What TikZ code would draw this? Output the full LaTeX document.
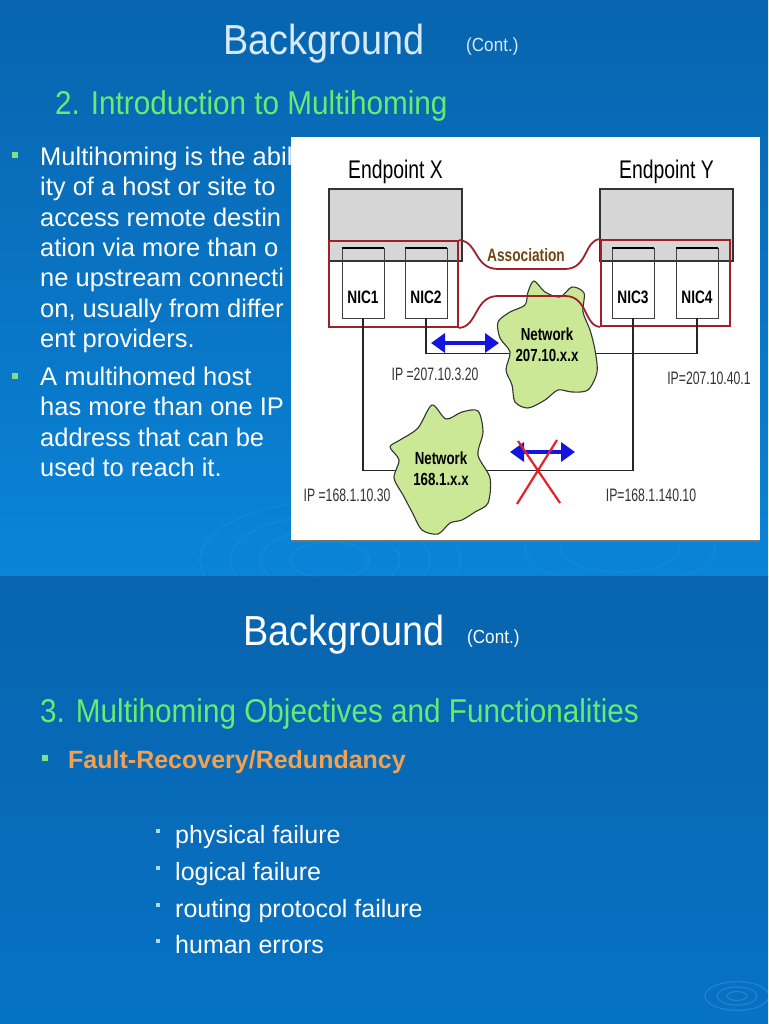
\documentclass[tikz,border=0pt]{standalone}
\usepackage{fontspec}
\setmainfont{Liberation Sans}
\newfontfamily\titlefont[FakeStretch=0.9]{Liberation Sans}
\newfontfamily\figfont[FakeStretch=0.76]{Liberation Sans}
\newfontfamily\ipfont[FakeStretch=0.68]{Liberation Sans}
\usetikzlibrary{arrows.meta,positioning}
\definecolor{slidetop}{RGB}{8,100,174}
\definecolor{slidelow}{RGB}{10,132,216}
\definecolor{slidetwolow}{RGB}{6,114,196}
\definecolor{headgreen}{RGB}{102,236,112}
\definecolor{titlewhite}{RGB}{214,234,250}
\definecolor{faultorange}{RGB}{240,162,82}
\definecolor{bulletgreen}{RGB}{130,224,130}
\definecolor{bulletcyan}{RGB}{170,220,235}
\definecolor{endgray}{RGB}{214,214,214}
\definecolor{assocred}{RGB}{158,32,40}
\definecolor{assoctext}{RGB}{110,70,20}
\definecolor{netgreen}{RGB}{202,232,150}
\definecolor{arrowblue}{RGB}{20,20,225}
\definecolor{crossred}{RGB}{228,32,40}

\begin{document}
\begin{tikzpicture}[x=1pt, y=-1pt,
    title/.style={font=\titlefont\fontsize{42}{44}\selectfont, text=titlewhite, anchor=base west, inner sep=0pt},
    cont/.style={font=\titlefont\fontsize{19}{21}\selectfont, text=titlewhite, anchor=base west, inner sep=0pt},
    heading/.style={font=\titlefont\fontsize{33}{36}\selectfont, text=headgreen, anchor=base west, inner sep=0pt},
    body/.style={font=\fontsize{25.5}{30.4}\selectfont, text=white, align=left, anchor=north west, inner sep=0pt},
    sub/.style={font=\fontsize{25}{27}\selectfont, text=white, anchor=base west, inner sep=0pt},
    sqbullet/.style={fill=bulletgreen, minimum size=6pt, inner sep=0pt},
    smallbullet/.style={fill=bulletcyan, minimum size=3.5pt, inner sep=0pt},
    endbox/.style={draw=black!80, line width=1.3pt, fill=endgray, minimum width=133pt, minimum height=72pt, inner sep=0pt},
    nic/.style={draw=black!75, minimum width=42pt, minimum height=70pt, inner sep=0pt, text height=40pt, text depth=0pt, font=\figfont\bfseries\fontsize{18}{20}\selectfont},
    assoc/.style={draw=assocred, line width=1.8pt, minimum width=129pt, minimum height=86pt, inner sep=0pt},
    endlabel/.style={font=\figfont\fontsize{25.5}{27}\selectfont, inner sep=0pt},
    netlabel/.style={font=\figfont\bfseries\fontsize{17.5}{21}\selectfont, align=center, inner sep=0pt},
    iplabel/.style={font=\ipfont\fontsize{18}{19}\selectfont, text=black!80, inner sep=0pt},
    wire/.style={draw=black!85, line width=1.2pt},
    twoway/.style={draw=arrowblue, line width=4pt, {Triangle[length=14pt,width=19pt]}-{Triangle[length=14pt,width=19pt]}},
    cloud/.style={draw=black!80, fill=netgreen, line width=1.1pt}
  ]
  \useasboundingbox (0,0) rectangle (768,1024);
  \shade[top color=slidetop, bottom color=slidelow] (0,0) rectangle (768,576);
  \shade[top color=slidetop, bottom color=slidetwolow] (0,576) rectangle (768,1024);

  \begin{scope}
    \clip (0,0) rectangle (768,576);
    \foreach \r in {40,70,100,130}
      \draw[white, opacity=0.035, line width=2pt] (330,560) ellipse ({\r pt} and {0.45*\r pt});
    \foreach \r in {60,95}
      \draw[white, opacity=0.03, line width=2pt] (620,548) ellipse ({\r pt} and {0.4*\r pt});
  \end{scope}
  \foreach \r in {10,20,32}
    \draw[white, opacity=0.12, line width=1.2pt] (737,996) ellipse ({\r pt} and {0.45*\r pt});

  \node[title] (bg1) at (223,55) {Background};
  \node[cont] (cont1) at (466,52) {(Cont.)};
  \node[heading] (intro) at (55,115) {2. Introduction to Multihoming};

  \node[sqbullet] (b1) at (15,155) {};
  \node[body] (txt1) at (40,146.7) {Multihoming is the abil\\ity of a host or site to\\access remote destin\\ation via more than o\\ne upstream connecti\\on, usually from differ\\ent providers.};
  \node[sqbullet] (b2) at (15,376) {};
  \node[body] (txt2) at (40,366.7) {A multihomed host\\has more than one IP\\address that can be\\used to reach it.};

  \fill[white] (291,137) rectangle (760,541);
  \draw[black!55, line width=1.5pt] (291,541) -- (760,541);

  \node[endbox] (epx) at (395.5,225) {};
  \node[endbox] (epy) at (666.5,225) {};
  \node[endlabel, above=4pt of epx] (epxname) {Endpoint X};
  \node[endlabel, above=4pt of epy] (epyname) {Endpoint Y};

  \node[nic] (nic1) at (363,283) {NIC1};
  \node[nic] (nic2) at (426,283) {NIC2};
  \node[nic] (nic3) at (633,283) {NIC3};
  \node[nic] (nic4) at (697,283) {NIC4};
  \foreach \n in {nic1,nic2,nic3,nic4}
    \draw[line width=1.8pt] (\n.north west) -- (\n.north east);

  \node[assoc] (ax) at (393.5,284) {};
  \node[assoc] (ay) at (665.5,283) {};
  \node[font=\figfont\bfseries\fontsize{18}{19}\selectfont, text=assoctext, inner sep=0pt] (assoc) at (526,255) {Association};

  \draw[wire] (nic1.south) -- ++(0,152) -| (nic3.south);
  \draw[wire] (nic2.south) -- ++(0,35) -| (nic4.south);

  \draw[cloud] plot[smooth cycle] coordinates {(534,281) (545,292) (560,297) (572,287) (584,293) (583,312) (590,330) (595,350) (597,372) (588,390) (572,392) (558,390) (545,400) (528,408) (515,402) (512,385) (506,370) (510,352) (500,338) (498,322) (510,312) (525,305) (528,292)};
  \draw[cloud] plot[smooth cycle] coordinates {(400,440) (418,428) (432,405) (446,419) (462,412) (478,411) (483,432) (478,455) (490,478) (488,503) (475,512) (462,520) (450,523) (438,534) (422,530) (412,512) (403,495) (394,478) (399,460) (390,447)};
  \node[netlabel] (net207) at (547,345) {Network\\207.10.x.x};
  \node[netlabel] (net168) at (441,469) {Network\\168.1.x.x};

  \draw[assocred, line width=1.8pt] (ax.north east) .. controls (478,241) and (474,269) .. (498,269) -- (565,269) .. controls (588,269) and (584,240) .. (ay.north west);
  \draw[assocred, line width=1.8pt] (ax.south east) .. controls (478,327) and (474,296) .. (498,296) -- (565,296) .. controls (588,296) and (584,326) .. (ay.south west);

  \coordinate (ta) at (431,343);
  \coordinate (tb) at (499,343);
  \draw[twoway] (ta) -- (tb);
  \coordinate (ba) at (510,452);
  \coordinate (bb) at (575,452);
  \draw[twoway] (ba) -- (bb);
  \draw[crossred, line width=2.2pt] (518,441) -- (560,503) (557,440) -- (517,504);

  \node[iplabel] (ip2) at (435,374) {IP =207.10.3.20};
  \node[iplabel] (ip4) at (709,378) {IP=207.10.40.1};
  \node[iplabel] (ip1) at (347,495) {IP =168.1.10.30};
  \node[iplabel] (ip3) at (651,495) {IP=168.1.140.10};

  \node[title, text=white] (bg2) at (243,645) {Background};
  \node[cont, text=white] (cont2) at (467,643) {(Cont.)};
  \node[heading] (goals) at (40,722) {3. Multihoming Objectives and Functionalities};
  \node[sqbullet] (b3) at (45,758) {};
  \node[font=\bfseries\fontsize{25}{27}\selectfont, text=faultorange, anchor=base west, inner sep=0pt] (fault) at (68,768) {Fault-Recovery/Redundancy};
  \foreach \t/\y [count=\i] in {physical failure/843, logical failure/880, routing protocol failure/917, human errors/953} {
    \node[smallbullet] (s\i) at (158,\y-12) {};
    \node[sub] (f\i) at (175,\y) {\t};
  }
\end{tikzpicture}
\end{document}
